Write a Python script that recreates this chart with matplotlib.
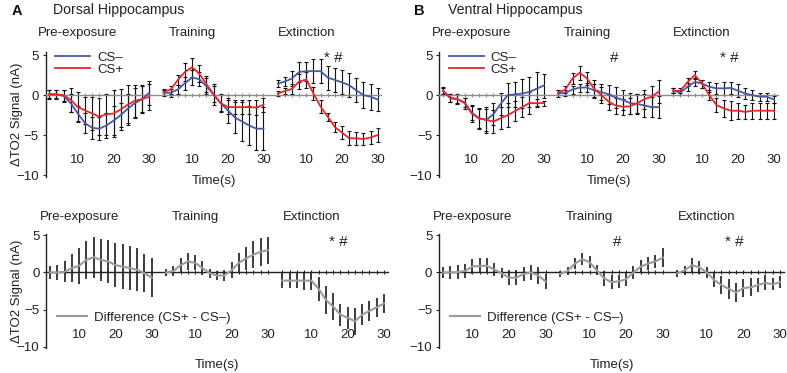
import matplotlib
matplotlib.use("Agg")
import matplotlib.pyplot as plt

plt.rcParams['font.family'] = ['Liberation Sans', 'DejaVu Sans']

# ---------------- data ----------------
segments = ["Pre-exposure", "Training", "Extinction"]
time_s = [2, 4, 6, 8, 10, 12, 14, 16, 18, 20, 22, 24, 26, 28, 30]
tick_times = [10, 20, 30]
yticks = [-10, -5, 0, 5]

# Dorsal hippocampus (panel A): [pre-exposure, training, extinction]
dorsal_csm = [
    [0.1, 0.1, -0.1, -1.0, -2.3, -3.5, -4.1, -4.2, -3.8, -3.2, -2.5, -1.7, -1.0, -0.5, 0.3],
    [0.3, 0.3, 0.7, 1.5, 2.2, 2.0, 1.1, 0.1, -1.0, -1.9, -2.8, -3.3, -3.8, -4.2, -4.2],
    [1.45, 1.7, 2.1, 2.9, 3.0, 3.0, 3.0, 2.2, 1.9, 1.6, 1.25, 0.6, 0.0, -0.2, -0.55],
]
dorsal_csm_err = [
    [0.6, 0.6, 0.8, 1.1, 1.0, 1.3, 1.4, 1.4, 1.6, 1.8, 1.5, 1.8, 1.9, 1.6, 1.5],
    [0.4, 0.5, 0.6, 0.8, 0.9, 0.9, 1.0, 1.3, 1.1, 1.6, 2.0, 2.4, 2.5, 2.7, 2.7],
    [0.4, 0.6, 0.9, 1.2, 1.2, 1.5, 1.5, 1.5, 1.5, 1.5, 1.5, 1.5, 1.6, 1.6, 1.4],
]
dorsal_csp = [
    [0.1, 0.1, 0.0, -0.6, -1.5, -1.9, -2.3, -2.7, -2.4, -2.3, -1.8, -1.2, -0.7, -0.5, -0.2],
    [0.4, 0.7, 1.9, 2.9, 3.5, 2.7, 1.4, 0.1, -1.0, -1.5, -1.5, -1.5, -1.5, -1.55, -1.2],
    [0.2, 0.5, 0.8, 1.7, 1.95, 0.2, -1.45, -2.7, -4.0, -4.7, -5.4, -5.4, -5.5, -5.3, -5.0],
]
dorsal_csp_err = [
    [0.5, 0.5, 0.7, 1.5, 1.9, 1.7, 2.1, 2.3, 2.6, 2.9, 2.6, 2.5, 2.0, 1.75, 1.6],
    [0.4, 0.5, 0.6, 1.1, 1.2, 1.1, 1.0, 1.0, 1.0, 0.9, 0.9, 0.9, 0.9, 0.9, 0.9],
    [0.3, 0.4, 0.6, 0.9, 1.0, 0.8, 0.8, 0.5, 0.6, 0.8, 0.9, 0.8, 0.8, 0.8, 0.9],
]
dorsal_diff = [
    [0.0, 0.0, 0.1, 0.6, 0.9, 1.7, 2.05, 1.7, 1.5, 1.0, 0.8, 0.6, 0.35, -0.1, -0.7],
    [0.0, 0.2, 1.0, 1.5, 1.3, 0.6, -0.1, -0.4, -0.4, 0.3, 1.3, 1.9, 2.4, 2.8, 3.0],
    [-1.1, -1.1, -1.1, -1.1, -1.1, -2.2, -3.7, -4.6, -5.7, -6.1, -6.6, -5.7, -5.2, -4.7, -4.2],
]
dorsal_diff_err = [
    [0.9, 1.0, 1.4, 1.9, 2.4, 2.6, 2.8, 2.8, 2.9, 3.0, 3.0, 3.0, 2.9, 2.6, 2.6],
    [0.5, 0.7, 1.0, 1.1, 1.0, 0.9, 0.6, 0.6, 0.7, 1.1, 1.3, 1.5, 1.8, 1.9, 1.8],
    [1.0, 1.0, 1.0, 1.2, 1.2, 1.6, 1.9, 1.8, 1.5, 1.5, 1.8, 1.4, 1.4, 1.3, 1.3],
]

# Ventral hippocampus (panel B)
ventral_csm = [
    [0.5, -0.3, -0.5, -0.9, -2.2, -2.9, -3.1, -2.4, -1.1, 0.0, 0.1, 0.2, 0.4, 0.8, 1.2],
    [0.2, 0.3, 0.7, 0.95, 0.95, 0.6, 0.4, 0.1, -0.3, -0.6, -1.0, -1.1, -1.3, -1.5, -1.5],
    [0.55, 0.3, 1.05, 1.65, 1.45, 1.05, 0.85, 0.85, 0.9, 0.55, 0.2, 0.0, -0.2, -0.2, -0.55],
]
ventral_csm_err = [
    [0.4, 0.5, 0.5, 0.6, 0.9, 1.2, 1.4, 1.4, 1.4, 1.5, 1.6, 1.8, 1.9, 2.1, 1.5],
    [0.4, 0.4, 0.5, 0.5, 0.6, 0.8, 1.0, 1.2, 1.3, 1.3, 1.3, 1.3, 1.4, 1.3, 1.4],
    [0.3, 0.3, 0.5, 0.5, 0.5, 0.6, 0.7, 0.8, 0.8, 0.8, 0.7, 0.6, 0.5, 0.5, 0.4],
]
ventral_csp = [
    [0.6, -0.4, -0.5, -1.0, -2.3, -2.9, -3.1, -3.3, -2.9, -2.5, -2.0, -1.5, -1.0, -1.0, -1.0],
    [0.3, 0.7, 2.1, 2.8, 2.1, 0.8, 0.0, -0.8, -1.3, -1.45, -1.4, -1.0, -0.5, -0.2, 0.45],
    [0.55, 0.55, 1.65, 2.5, 1.45, 0.0, -1.25, -1.65, -1.95, -1.95, -2.1, -1.95, -1.95, -1.95, -1.95],
]
ventral_csp_err = [
    [0.4, 0.5, 0.6, 0.7, 1.1, 1.3, 1.6, 1.4, 1.4, 1.5, 1.3, 1.3, 1.4, 0.5, 0.3],
    [0.3, 0.4, 0.7, 0.9, 0.8, 1.1, 1.0, 1.0, 1.0, 1.0, 1.0, 1.2, 1.2, 1.3, 1.4],
    [0.3, 0.3, 0.5, 0.5, 0.5, 0.6, 0.9, 1.1, 1.2, 1.0, 0.9, 1.0, 1.0, 1.0, 1.0],
]
ventral_diff = [
    [0.0, 0.0, 0.05, 0.2, 0.8, 0.9, 0.9, 0.4, -0.1, -0.7, -0.7, -0.2, 0.0, -0.4, -1.2],
    [-0.2, 0.2, 1.2, 1.8, 1.4, 0.3, -0.8, -1.3, -1.2, -0.9, 0.0, 0.8, 1.2, 1.5, 2.0],
    [-0.1, 0.3, 1.0, 0.7, 0.0, -1.0, -1.7, -2.2, -2.7, -2.1, -2.0, -1.7, -1.4, -1.6, -1.3],
]
ventral_diff_err = [
    [0.75, 0.85, 0.9, 1.0, 1.0, 1.0, 1.0, 0.9, 0.65, 1.0, 1.0, 1.0, 1.0, 1.1, 1.0],
    [0.45, 0.5, 0.7, 0.8, 0.8, 0.7, 1.0, 0.9, 0.9, 0.9, 0.9, 0.9, 0.9, 0.9, 1.3],
    [0.5, 0.6, 0.9, 0.9, 0.8, 1.0, 1.2, 1.35, 1.25, 1.2, 1.2, 1.0, 1.0, 0.8, 0.8],
]

# significance marks: segment index -> text
dorsal_marks = {2: "* #"}
ventral_marks = {1: "#", 2: "* #"}

# ---------------- style ----------------
BLUE = "#4a58a8"
RED = "#e8262b"
GREY = "#9c9c9c"
TXT = "#222222"
FS = 9.5
SEG_W = 32  # slot width of one segment on the shared x axis (30 s + gap)

W, H = 787, 373
fig = plt.figure(figsize=(W / 100, H / 100), dpi=100)


def px_axes(left, right, top, bottom):
    return fig.add_axes([left / W, 1 - bottom / H, (right - left) / W, (bottom - top) / H])


def xpos(seg):
    return [seg * SEG_W + t for t in time_s]


def setup(ax, ylim, zero_color, tick_y):
    ax.set_xlim(1, 95)
    ax.set_ylim(*ylim)
    ax.patch.set_visible(False)
    for s in ("top", "right"):
        ax.spines[s].set_visible(False)
    ax.spines["bottom"].set_position(("data", 0))
    ax.spines["bottom"].set_color(zero_color)
    ax.spines["bottom"].set_linewidth(1.0)
    ax.spines["left"].set_color(TXT)
    ax.spines["left"].set_linewidth(1.0)
    ax.set_xticks([x for seg in range(3) for x in xpos(seg)])
    ax.tick_params(axis="x", length=2.5, width=0.8, color=zero_color,
                   direction="inout", labelbottom=False)
    ax.set_yticks(yticks)
    ax.tick_params(axis="y", length=2.5, width=0.8, pad=2.5,
                   labelsize=FS, colors=TXT)
    trans = ax.get_xaxis_transform()
    for seg, name in enumerate(segments):
        for t in tick_times:
            ax.text(seg * SEG_W + t, tick_y, str(t), ha="center", va="center",
                    fontsize=FS, color=TXT)
        ax.text(seg * SEG_W + 10, 1.15, name, transform=trans, ha="center",
                va="center", fontsize=FS, color=TXT)


def marks(ax, mk, y):
    for seg, txt in mk.items():
        ax.text(seg * SEG_W + 17.5, y, txt, ha="center", va="center",
                fontsize=11, color=TXT)


def top_panel(ax, csm, csm_err, csp, csp_err, mk):
    setup(ax, (-10.25, 5.4), "#8c8c8c", -8.1)
    for seg in range(3):
        x = xpos(seg)
        ax.errorbar(x, csm[seg], yerr=csm_err[seg], fmt="none", ecolor="#111111",
                    elinewidth=0.8, capsize=1.4, capthick=0.8, zorder=2)
        ax.errorbar(x, csp[seg], yerr=csp_err[seg], fmt="none", ecolor="#111111",
                    elinewidth=0.8, capsize=1.4, capthick=0.8, zorder=2)
        ax.plot(x, csm[seg], color=BLUE, lw=1.3, zorder=3,
                label="CS\u2013" if seg == 0 else None)
        ax.plot(x, csp[seg], color=RED, lw=1.3, zorder=3,
                label="CS+" if seg == 0 else None)
    ax.legend(loc="upper left", bbox_to_anchor=(0.027, 1.005), frameon=False,
              fontsize=FS, handlelength=2.7, handletextpad=0.5, labelspacing=0.0,
              borderpad=0, borderaxespad=0, labelcolor=TXT)
    marks(ax, mk, 4.6)
    ax.text(0.5, -0.03, "Time(s)", transform=ax.transAxes, ha="center", va="center",
            fontsize=FS, color=TXT)


def bottom_panel(ax, diff, diff_err, mk):
    setup(ax, (-10.2, 5.2), "#222222", -8.4)
    for seg in range(3):
        x = xpos(seg)
        ax.errorbar(x, diff[seg], yerr=diff_err[seg], fmt="none", ecolor="#3c3c3c",
                    elinewidth=1.4, capsize=0, zorder=2)
        ax.plot(x, diff[seg], color=GREY, lw=1.5, zorder=3,
                label="Difference (CS+ - CS\u2013)" if seg == 0 else None)
    ax.legend(loc="center left", bbox_to_anchor=(0.03, 0.265), frameon=False,
              fontsize=FS, handlelength=2.3, handletextpad=0.5,
              borderpad=0, borderaxespad=0, labelcolor=TXT)
    marks(ax, mk, 4.1)
    ax.text(0.5, -0.15, "Time(s)", transform=ax.transAxes, ha="center", va="center",
            fontsize=FS, color=TXT)


axA1 = px_axes(45.7, 381.3, 52, 177)
axB1 = px_axes(439.4, 777.6, 52, 177)
axA2 = px_axes(46.4, 387.6, 234, 348)
axB2 = px_axes(439.3, 783.7, 234, 348)

top_panel(axA1, dorsal_csm, dorsal_csm_err, dorsal_csp, dorsal_csp_err, dorsal_marks)
top_panel(axB1, ventral_csm, ventral_csm_err, ventral_csp, ventral_csp_err, ventral_marks)
bottom_panel(axA2, dorsal_diff, dorsal_diff_err, dorsal_marks)
bottom_panel(axB2, ventral_diff, ventral_diff_err, ventral_marks)

# y labels (panel A only)
for top, bottom in ((52, 177), (234, 348)):
    fig.text(17 / W, 1 - (top + bottom) / 2 / H, "\u0394TO2 Signal (nA)", rotation=90,
             ha="center", va="center", fontsize=FS, color=TXT)

# panel headings
fig.text(17 / W, 1 - 11 / H, "A", fontsize=10.5, fontweight="bold", ha="center",
         va="center", color="#111111")
fig.text(53 / W, 1 - 10 / H, "Dorsal Hippocampus", fontsize=10.2, ha="left",
         va="center", color=TXT)
fig.text(419 / W, 1 - 11 / H, "B", fontsize=10.5, fontweight="bold", ha="center",
         va="center", color="#111111")
fig.text(448 / W, 1 - 10 / H, "Ventral Hippocampus", fontsize=10.2, ha="left",
         va="center", color=TXT)

fig.savefig("out.png", dpi=100)
